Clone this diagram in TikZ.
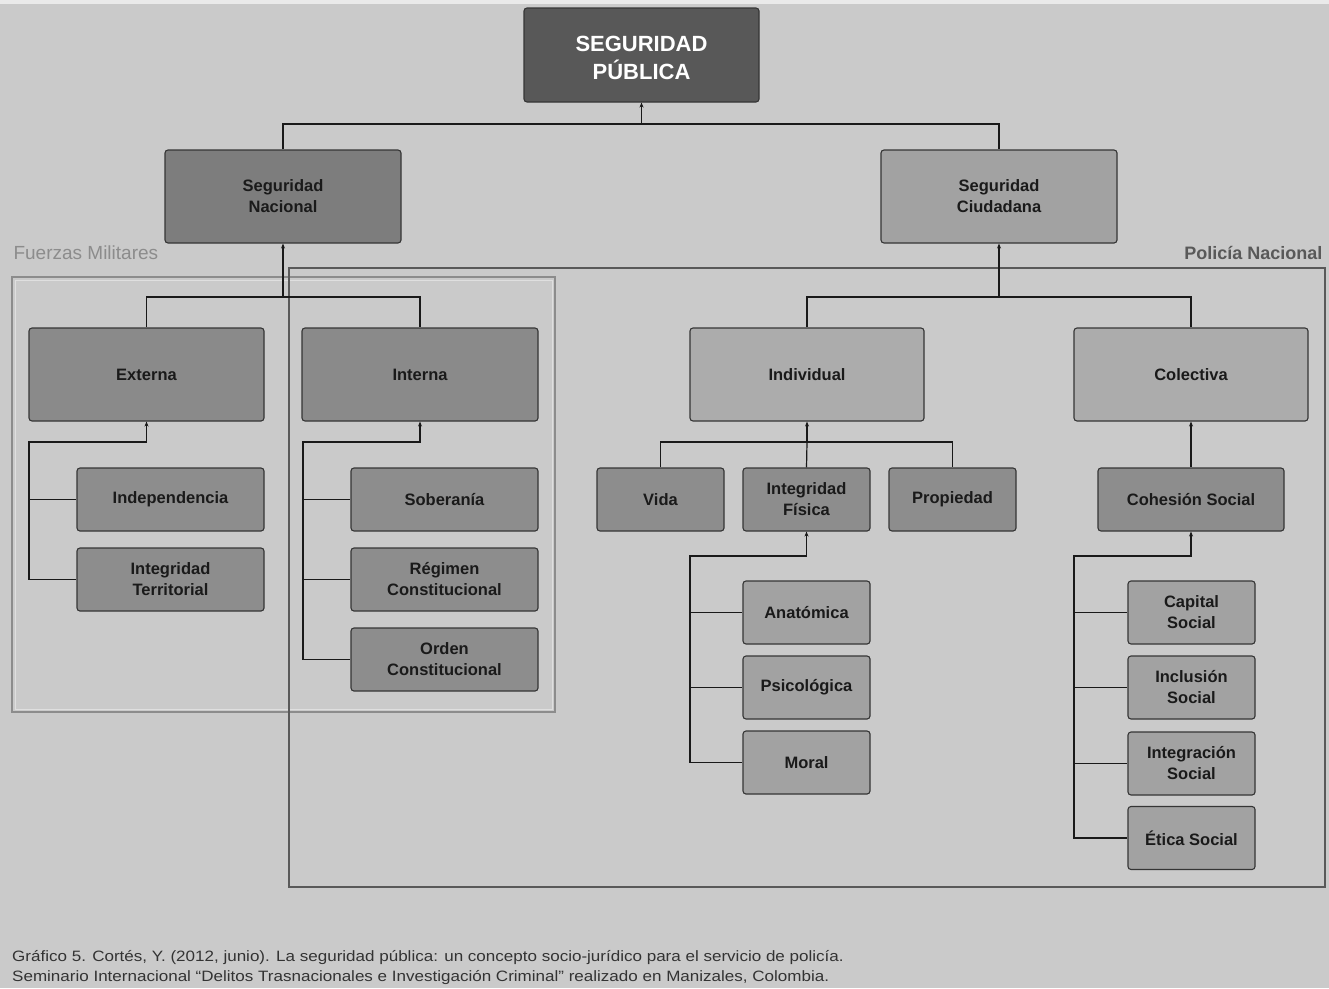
\documentclass[tikz,border=0pt]{standalone}
\usepackage{fontspec}
\setmainfont{Liberation Sans}
\usetikzlibrary{arrows.meta}
\definecolor{bgc}{HTML}{CACACA}
\definecolor{ctop}{HTML}{585858}
\definecolor{cnac}{HTML}{7D7D7D}
\definecolor{cciu}{HTML}{A2A2A2}
\definecolor{cmid}{HTML}{8A8A8A}
\definecolor{cmidl}{HTML}{ACACAC}
\definecolor{cleaf}{HTML}{8D8D8D}
\definecolor{cleafl}{HTML}{A2A2A2}
\definecolor{cedge}{HTML}{353535}
\definecolor{ctext}{HTML}{1A1A1A}
\tikzset{
  box/.style={draw=cedge, line width=1.1pt, rounded corners=3pt, inner sep=0pt,
    align=center, text=ctext, font=\bfseries\fontsize{16.5}{21}\selectfont},
  bigbox/.style={box, minimum width=#1, minimum height=93pt},
  smallbox/.style={box, minimum width=#1, minimum height=63pt},
  link/.style={draw=black!90, line width=1.2pt},
  arr/.style={link, {Stealth[length=5pt,width=4pt]}-},
  captext/.style={anchor=west, inner sep=0pt, text=black!80, font=\fontsize{15}{20}\selectfont},
}
\begin{document}
\begin{tikzpicture}[x=1pt,y=-1pt]
\fill[bgc] (0,0) rectangle (1329,988);
\fill[white!60!bgc] (0,0) rectangle (1329,4);
% frames
\draw[draw=black!45, line width=1.3pt] (12,277) rectangle (555,712);
\draw[draw=white!40!bgc, line width=0.8pt] (15,280) rectangle (552,709);
\draw[draw=black!65, line width=1.3pt] (289,268) rectangle (1325,887);
\node[anchor=west, text=black!45, font=\fontsize{19}{22}\selectfont] (lfm) at (10,253) {Fuerzas Militares};
\node[anchor=east, text=black!65, font=\bfseries\fontsize{18}{22}\selectfont] (lpn) at (1326,253) {Policía Nacional};
% nodes
\node[box, fill=ctop, minimum width=235pt, minimum height=94pt] (top) at (641.5,55) {};
\node[text=white, align=center, inner sep=0pt,
  font=\bfseries\fontsize{22}{28}\selectfont] (toptext) at (641.5,58) {SEGURIDAD\\PÚBLICA};
\node[bigbox=236pt, fill=cnac] (nac) at (283,196.5) {Seguridad\\Nacional};
\node[bigbox=236pt, fill=cciu] (ciu) at (999,196.5) {Seguridad\\Ciudadana};
\node[bigbox=235pt, fill=cmid] (ext) at (146.5,374.5) {Externa};
\node[bigbox=236pt, fill=cmid] (int) at (420,374.5) {Interna};
\node[bigbox=234pt, fill=cmidl] (ind) at (807,374.5) {Individual};
\node[bigbox=234pt, fill=cmidl] (col) at (1191,374.5) {Colectiva};
\node[smallbox=187pt, fill=cleaf] (indep) at (170.5,499.5) {Independencia};
\node[smallbox=187pt, fill=cleaf] (intT) at (170.5,579.5) {Integridad\\Territorial};
\node[smallbox=187pt, fill=cleaf] (sob) at (444.5,499.5) {Soberanía};
\node[smallbox=187pt, fill=cleaf] (reg) at (444.5,579.5) {Régimen\\Constitucional};
\node[smallbox=187pt, fill=cleaf] (ord) at (444.5,659.5) {Orden\\Constitucional};
\node[smallbox=127pt, fill=cleaf] (vida) at (660.5,499.5) {Vida};
\node[smallbox=127pt, fill=cleaf] (intF) at (806.5,499.5) {Integridad\\Física};
\node[smallbox=127pt, fill=cleaf] (prop) at (952.5,499.5) {Propiedad};
\node[smallbox=127pt, fill=cleafl] (anat) at (806.5,612.5) {Anatómica};
\node[smallbox=127pt, fill=cleafl] (psic) at (806.5,687.5) {Psicológica};
\node[smallbox=127pt, fill=cleafl] (moral) at (806.5,762.5) {Moral};
\node[smallbox=186pt, fill=cleaf] (coh) at (1191,499.5) {Cohesión Social};
\node[smallbox=127pt, fill=cleafl] (cap) at (1191.5,612.5) {Capital\\Social};
\node[smallbox=127pt, fill=cleafl] (incl) at (1191.5,687.5) {Inclusión\\Social};
\node[smallbox=127pt, fill=cleafl] (integr) at (1191.5,763.5) {Integración\\Social};
\node[smallbox=127pt, fill=cleafl] (etica) at (1191.5,838) {Ética Social};
% junction coordinates
\coordinate (j1) at (641.5,124);
\coordinate (j2) at (283,297);
\coordinate (j3) at (999,297);
\coordinate (je) at (29,442);
\coordinate (ji) at (303,442);
\coordinate (jd) at (807,442);
\coordinate (jf) at (690,556);
\coordinate (jc) at (1074,556);
% connectors
\draw[arr] (top.south) -- (j1);
\draw[link] (nac.north) |- (j1) -| (ciu.north);
\draw[arr] (nac.south) -- (j2);
\draw[link] (ext.north) |- (j2) -| (int.north);
\draw[arr] (ciu.south) -- (j3);
\draw[link] (ind.north) |- (j3) -| (col.north);
\draw[arr] (ext.south) |- (je) |- (intT.west);
\draw[link] (je |- indep.west) -- (indep.west);
\draw[arr] (int.south) |- (ji) |- (ord.west);
\draw[link] (ji |- sob.west) -- (sob.west);
\draw[link] (ji |- reg.west) -- (reg.west);
\draw[arr] (ind.south) -- (jd);
\draw[link] (vida.north) |- (jd) -| (prop.north);
\draw[link] (jd) -- (intF.north);
\draw[arr] (intF.south) |- (jf) |- (moral.west);
\draw[link] (jf |- anat.west) -- (anat.west);
\draw[link] (jf |- psic.west) -- (psic.west);
\draw[arr] (col.south) -- (coh.north);
\draw[arr] (coh.south) |- (jc) |- (etica.west);
\draw[link] (jc |- cap.west) -- (cap.west);
\draw[link] (jc |- incl.west) -- (incl.west);
\draw[link] (jc |- integr.west) -- (integr.west);
% caption
\node[captext] (cap1) at (12,958)
  {\scalebox{1.135}[1]{Gráfico 5. Cortés, Y. (2012, junio). La seguridad pública: un concepto socio-jurídico para el servicio de policía.}};
\node[captext] (cap2) at (12,978)
  {\scalebox{1.135}[1]{Seminario Internacional “Delitos Trasnacionales e Investigación Criminal” realizado en Manizales, Colombia.}};
\end{tikzpicture}
\end{document}
